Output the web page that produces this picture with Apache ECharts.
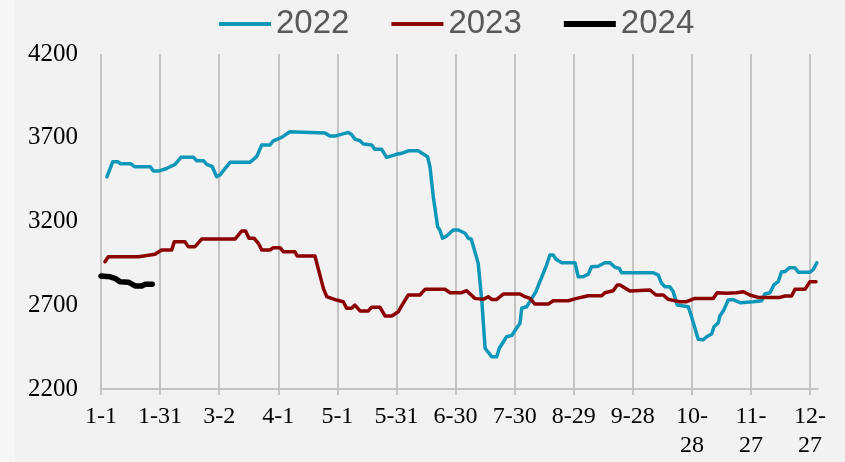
<!DOCTYPE html>
<html>
<head>
<meta charset="utf-8">
<script src="https://cdn.jsdelivr.net/npm/echarts@6.0.0/dist/echarts.min.js"></script>
<style>
  html, body { margin: 0; padding: 0; background: #f7f7f7; }
  #chart { position: absolute; left: 15px; top: 0; width: 830px; height: 462px; background: #f2f2f2; }
</style>
</head>
<body>
<div id="chart"></div>
<script>
// x = day of year (0 = 1-1), y = value; points read at the breaks of each line
const tickLabels = ['1-1', '1-31', '3-2', '4-1', '5-1', '5-31', '6-30', '7-30', '8-29', '9-28', '10-\n28', '11-\n27', '12-\n27'];
const seriesNames = ['2022', '2023', '2024'];

const data2022 = [
    [3, 3467], [6, 3557], [8.5, 3557], [10, 3545], [15, 3545], [17, 3527], [25, 3527], [26.6, 3501], [29, 3501],
    [33, 3515], [37.6, 3541], [40.6, 3583], [47, 3583], [48.6, 3563], [52, 3563], [53.7, 3541], [56.5, 3527],
    [58.7, 3467], [60.4, 3478], [65.5, 3553], [75.6, 3553], [79, 3587], [81.6, 3657], [85.8, 3657], [87.5, 3682],
    [91.7, 3702], [95.9, 3736], [102.7, 3733], [113.7, 3728], [116.2, 3710], [118.8, 3710], [125.5, 3732],
    [127.2, 3720], [128.9, 3692], [131.5, 3682], [133.2, 3662], [137.4, 3657], [139, 3631], [142.5, 3631],
    [145, 3583], [150, 3601], [152.6, 3607], [156, 3622], [161, 3622], [163.6, 3603], [165.8, 3587], [167, 3527],
    [168.7, 3348], [170.9, 3169], [172, 3149], [173.4, 3100], [175.5, 3113], [178.8, 3149], [181.4, 3149],
    [184.8, 3130], [186.5, 3100], [188, 3094], [191.5, 2950], [193.3, 2731], [195, 2443], [198.3, 2393],
    [200.9, 2393], [202.2, 2443], [205.9, 2512], [208.5, 2520], [212.7, 2592], [213.6, 2682], [216.1, 2691],
    [220.8, 2781], [222.8, 2841], [226.2, 2940], [227.9, 3000], [229.6, 3000], [231, 2974], [233.9, 2954],
    [240.6, 2954], [242.3, 2870], [244.8, 2870], [247.4, 2886], [249, 2930], [252.4, 2933], [255.8, 2954],
    [258.4, 2954], [260.9, 2927], [263.1, 2920], [264.3, 2894], [280.4, 2894], [282.9, 2880], [284.6, 2831],
    [286.3, 2811], [288.8, 2811], [290.5, 2781], [292.5, 2701], [298.1, 2691], [299.8, 2632], [303.2, 2497],
    [305.7, 2494], [307.5, 2512], [310, 2528], [311.2, 2572], [313.4, 2596], [314.2, 2636], [316.2, 2672],
    [318.4, 2731], [321, 2734], [324.4, 2715], [331.1, 2721], [335.4, 2727], [337, 2767], [339.6, 2775],
    [341.6, 2821], [343.8, 2841], [345.5, 2900], [347.2, 2900], [349.4, 2924], [352.3, 2924], [354, 2897],
    [359.9, 2897], [361.7, 2915], [363.4, 2954]
];

const data2023 = [
    [2, 2960], [3.7, 2990], [19, 2990], [27.4, 3004], [30.8, 3030], [35.9, 3030], [37.2, 3079], [42.6, 3079],
    [44.3, 3050], [47.7, 3050], [51.1, 3095], [68, 3095], [71.4, 3143], [73.4, 3143], [75.1, 3100], [77.7, 3100],
    [79.9, 3070], [81.6, 3030], [85.8, 3030], [87.5, 3044], [90.9, 3044], [92.5, 3020], [98.4, 3020],
    [99.6, 2994], [108.6, 2994], [112.9, 2801], [114.6, 2751], [119.6, 2731], [123, 2721], [124.7, 2682],
    [127.2, 2682], [128.9, 2701], [131.5, 2666], [135.7, 2666], [137.4, 2688], [141.6, 2688], [144.2, 2636],
    [147.6, 2636], [150.9, 2661], [152.6, 2696], [156, 2761], [161.9, 2761], [164.5, 2795], [174.6, 2795],
    [177.2, 2775], [183.1, 2775], [185.6, 2787], [189.8, 2741], [194, 2735], [196.6, 2751], [198.3, 2735],
    [200.9, 2735], [204.2, 2767], [212.7, 2767], [215.2, 2751], [217.8, 2741], [220.3, 2707], [227.1, 2707],
    [229.6, 2727], [237.2, 2727], [241.5, 2741], [247.4, 2757], [254.2, 2757], [255.8, 2775], [260, 2787],
    [262.1, 2821], [263.5, 2821], [268.5, 2785], [278.7, 2791], [281.7, 2761], [285.4, 2761], [288, 2735],
    [293.9, 2721], [297.3, 2721], [301.5, 2741], [310.8, 2741], [312.8, 2775], [317.6, 2771], [322.7, 2775],
    [326, 2781], [329.4, 2761], [333.6, 2747], [344.7, 2747], [347.2, 2755], [350.6, 2755], [352.3, 2795],
    [357.4, 2795], [359.9, 2841], [363, 2841]
];

const data2024 = [
    [0, 2875], [4.6, 2870], [7.1, 2861], [9.6, 2841], [13.9, 2838], [17.3, 2815], [20.7, 2815], [22.3, 2825], [26, 2825]
];

const colors = ['#0f97b9', '#8b0000', '#000000'];
const widths = [3.5, 3.5, 5.5];
// legend swatches: flat bars, the 2024 one a bit thicker
const legendIcons = ['path://M0,0h52v4h-52z', 'path://M0,0h52v4h-52z', 'path://M0,0h52v6h-52z'];

const myChart = echarts.init(document.getElementById('chart'));

const lineSeries = [data2022, data2023, data2024].map(function (d, i) {
    return {
        name: seriesNames[i],
        type: 'line',
        data: d,
        symbol: 'none',
        smooth: false,
        z: 3 + i,
        lineStyle: { color: colors[i], width: widths[i], cap: 'round', join: 'round' },
        itemStyle: { color: colors[i] }
    };
});

const option = {
    backgroundColor: '#f2f2f2',
    animation: false,
    legend: {
        data: seriesNames.map(function (n, i) {
            return { name: n, icon: legendIcons[i], itemStyle: { color: colors[i] } };
        }),
        left: 199,
        top: 1,
        itemWidth: 52,
        itemHeight: 8,
        itemGap: 42,
        symbolKeepAspect: true,
        textStyle: {
            fontFamily: "'Liberation Sans', Arial, sans-serif",
            fontSize: 33,
            color: '#595959',
            lineHeight: 36
        }
    },
    grid: { left: 86, right: 27, top: 54, bottom: 73 },
    xAxis: {
        type: 'value',
        min: 0,
        max: 364,
        interval: 30,
        axisLine: { lineStyle: { color: '#c4c4c4', width: 2 } },
        axisTick: { show: true, length: 6, lineStyle: { color: '#c4c4c4', width: 2 } },
        splitLine: { show: true, showMaxLine: false, lineStyle: { color: '#c4c4c4', width: 2 } },
        axisLabel: {
            showMaxLabel: false,
            margin: 13,
            fontFamily: "'Liberation Serif', 'Times New Roman', serif",
            fontSize: 24,
            lineHeight: 29,
            color: '#000',
            formatter: function (v) {
                return v % 30 === 0 ? tickLabels[v / 30] : '';
            }
        }
    },
    yAxis: {
        type: 'value',
        min: 2200,
        max: 4200,
        interval: 500,
        axisLine: { show: false },
        axisTick: { show: false },
        splitLine: { show: false },
        axisLabel: {
            margin: 23,
            fontFamily: "'Liberation Serif', 'Times New Roman', serif",
            fontSize: 25,
            color: '#000',
            formatter: function (v) { return String(v); }
        }
    },
    series: lineSeries
};

myChart.setOption(option);
</script>
</body>
</html>
